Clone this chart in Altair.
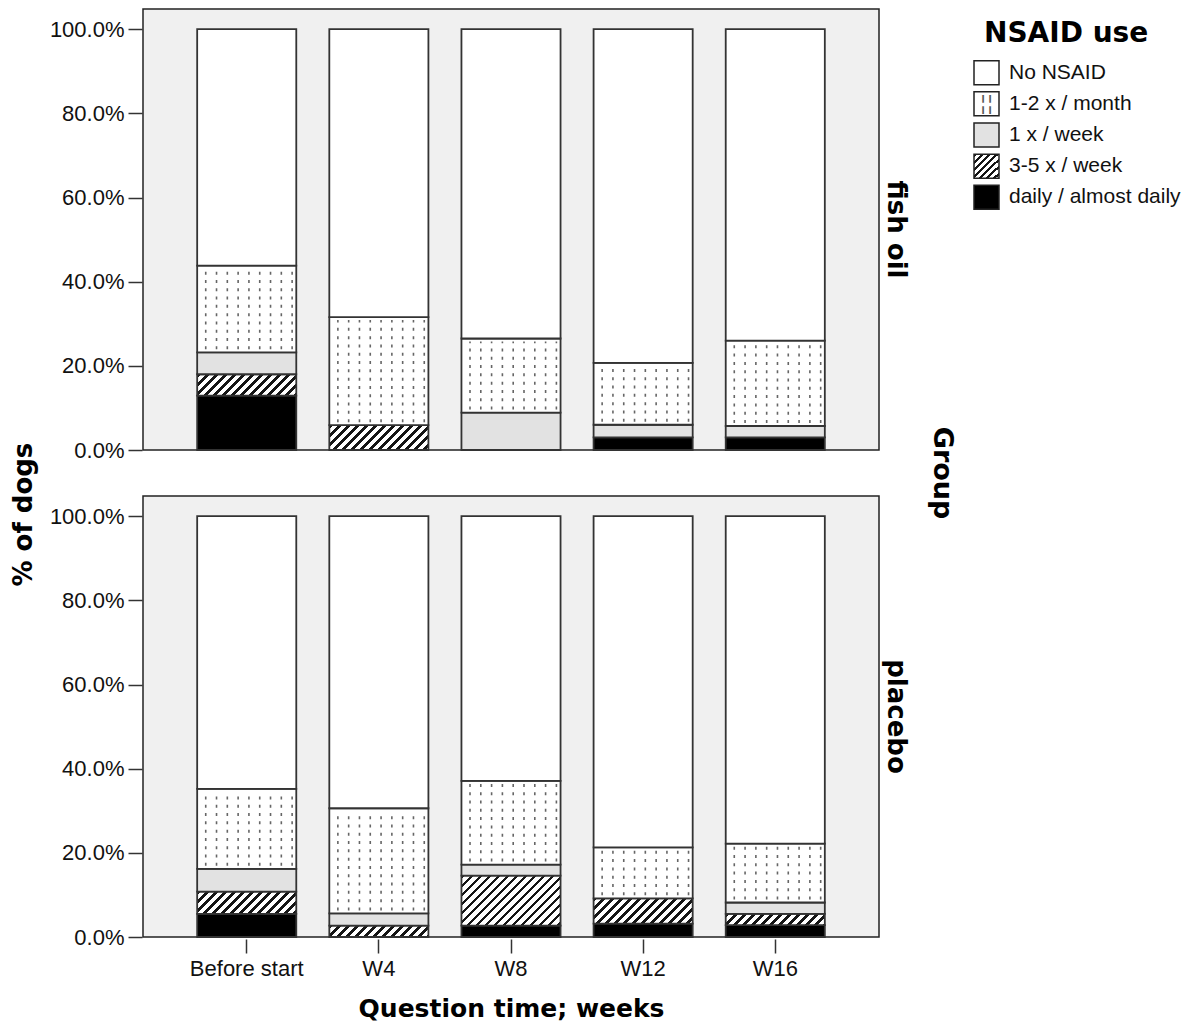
import altair as alt

# ---------------- data (percent of dogs) ----------------
times = ["Before start", "W4", "W8", "W12", "W16"]
groups = ["fish oil", "placebo"]
categories = ["No NSAID", "1-2 x / month", "1 x / week", "3-5 x / week", "daily / almost daily"]

fish_daily = [12.9, 0.0, 0.0, 3.0, 3.0]
fish_35 = [5.1, 5.9, 0.0, 0.0, 0.0]
fish_1w = [5.2, 0.0, 8.9, 3.0, 2.7]
fish_12m = [20.6, 25.7, 17.6, 14.7, 20.3]
fish_no = [56.2, 68.4, 73.5, 79.3, 74.0]

placebo_daily = [5.5, 0.0, 2.7, 3.2, 2.8]
placebo_35 = [5.3, 2.7, 11.9, 6.0, 2.7]
placebo_1w = [5.4, 2.9, 2.6, 0.0, 2.7]
placebo_12m = [19.0, 25.0, 19.9, 12.1, 14.0]
placebo_no = [64.8, 69.4, 62.9, 78.7, 77.8]

y_ticks = [0, 20, 40, 60, 80, 100]

# ---------------- styling / layout ----------------
PANEL_W = 736
PANEL_H = 441
Y_MAX = 104.8
PAD_IN = 0.25
PAD_OUT = 0.41
STEP = PANEL_W / (len(times) - PAD_IN + 2 * PAD_OUT)
BAR_W = STEP * (1 - PAD_IN)
PX_PER_PCT = PANEL_H / Y_MAX

TITLE_FONT = "DejaVu Sans"
LABEL_FONT = "Liberation Sans"


def hatch(w, h, period=9.0, frac=0.42):
    """Diagonal '///' hatch as a linear gradient in bbox units."""
    c = (w + h) / (w * w + h * h)
    n = (w + h) / period
    stops = []
    i = 0
    while i < n:
        a = min(i / n, 1.0)
        b = min((i + frac) / n, 1.0)
        d = min((i + 1) / n, 1.0)
        stops += [
            {"offset": a, "color": "#151515"},
            {"offset": b, "color": "#151515"},
            {"offset": b, "color": "#ffffff"},
            {"offset": d, "color": "#ffffff"},
        ]
        i += 1
    return {"gradient": "linear", "x1": 0, "y1": 0, "x2": c * w, "y2": c * h, "stops": stops}


plain_fill = {
    "No NSAID": "#ffffff",
    "1-2 x / month": "#ffffff",
    "1 x / week": "#e2e2e2",
    "daily / almost daily": "#000000",
}

series = {
    "fish oil": [fish_daily, fish_35, fish_1w, fish_12m, fish_no],
    "placebo": [placebo_daily, placebo_35, placebo_1w, placebo_12m, placebo_no],
}
stack_order = ["daily / almost daily", "3-5 x / week", "1 x / week", "1-2 x / month", "No NSAID"]

rows = []
for g in groups:
    for ti, t in enumerate(times):
        cum = 0.0
        for ci, cat in enumerate(stack_order):
            v = series[g][ci][ti]
            if v <= 0:
                continue
            if cat == "3-5 x / week":
                fill = hatch(BAR_W, v * PX_PER_PCT)
            else:
                fill = plain_fill[cat]
            rows.append({"group": g, "time": t, "cat": cat, "value": v,
                         "start": cum, "end": cum + v, "fill": fill})
            cum += v

base = alt.Chart(alt.Data(values=rows))

x_enc = alt.X(
    "time:N", sort=times,
    scale=alt.Scale(paddingInner=PAD_IN, paddingOuter=PAD_OUT),
    axis=alt.Axis(title="Question time; weeks", labelAngle=0, labelPadding=5,
                  titlePadding=17),
)
y_enc = alt.Y(
    "start:Q",
    scale=alt.Scale(domain=[0, Y_MAX], nice=False, zero=True),
    axis=alt.Axis(title=None, values=y_ticks,
                  labelExpr="format(datum.value, '.1f') + '%'", labelPadding=4),
)

bars = base.mark_bar(stroke="#333333", strokeWidth=1.8).encode(
    x=x_enc,
    y=y_enc,
    y2="end:Q",
    fill=alt.Fill("fill:N", scale=None),
)

rule_layers = []
for i in range(9):
    off = -41 + 10.8 * i
    rule_layers.append(
        base.transform_filter(alt.datum.cat == "1-2 x / month")
        .mark_rule(xOffset=off, yOffset=-3, y2Offset=3, strokeDash=[3, 5.3],
                   color="#666666", strokeWidth=1.6)
        .encode(x=alt.X("time:N", sort=times), y="start:Q", y2="end:Q")
    )

panel = alt.layer(bars, *rule_layers).properties(width=PANEL_W, height=PANEL_H)

faceted = panel.facet(
    row=alt.Row(
        "group:N", sort=groups,
        header=alt.Header(
            title="Group", labelAngle=90, labelOrient="right", titleOrient="right",
            titleAngle=90, labelFont=TITLE_FONT, labelFontSize=26, labelFontWeight="bold",
            labelColor="#000", labelPadding=3, titleFont=TITLE_FONT, titleFontSize=27,
            titleFontWeight="bold", titleColor="#000", titlePadding=9,
        ),
    ),
    spacing=43,
).properties(
    title=alt.TitleParams("% of dogs", orient="left", anchor="middle", font=TITLE_FONT,
                          fontSize=26, fontWeight="bold", color="#000", offset=12),
)

# ---------------- manual legend ----------------
leg_rows = []
for cat in categories:
    if cat == "3-5 x / week":
        f = hatch(24, 24, period=7.0)
    else:
        f = plain_fill[cat]
    leg_rows.append({"cat": cat, "fill": f})

leg_base = alt.Chart(alt.Data(values=leg_rows))
leg_y = alt.Y("cat:N", sort=categories, axis=None,
              scale=alt.Scale(paddingInner=0.23, paddingOuter=0.12, range=[48, 204]))
leg_sw = leg_base.mark_bar(stroke="#222", strokeWidth=1.5).encode(
    y=leg_y, x=alt.value(0), x2=alt.value(25), fill=alt.Fill("fill:N", scale=None)
)
leg_dots = leg_base.transform_filter(alt.datum.cat == "1-2 x / month").mark_text(
    text="¦", fontSize=20, color="#555", font=LABEL_FONT
).encode(y=leg_y, x=alt.value(9))
leg_dots2 = leg_base.transform_filter(alt.datum.cat == "1-2 x / month").mark_text(
    text="¦", fontSize=20, color="#555", font=LABEL_FONT
).encode(y=leg_y, x=alt.value(16))
leg_txt = leg_base.mark_text(
    align="left", baseline="middle", font=LABEL_FONT, fontSize=21, color="#111"
).encode(y=leg_y, x=alt.value(35), text="cat:N")
leg_title = leg_base.transform_filter(alt.datum.cat == "No NSAID").mark_text(
    text="NSAID use", align="left", baseline="middle", font=TITLE_FONT, fontSize=28,
    fontWeight="bold", color="#000"
).encode(x=alt.value(10), y=alt.value(25))

legend = alt.layer(leg_sw, leg_dots, leg_dots2, leg_txt, leg_title).properties(
    width=212, height=210,
    view=alt.ViewBackground(fill="#ffffff", stroke="#ffffff", strokeWidth=0),
)

chart = alt.hconcat(faceted, legend, spacing=17).properties(
    padding={"left": 3, "top": 0, "right": 0, "bottom": 0},
    background="#ffffff",
).configure_view(
    fill="#f0f0f0", stroke="#222222", strokeWidth=1.5
).configure_axis(
    labelFont=LABEL_FONT, labelFontSize=22, labelColor="#111",
    titleFont=TITLE_FONT, titleFontSize=25, titleFontWeight="bold", titleColor="#000",
    tickSize=14, tickWidth=1.5, tickColor="#333", domain=False, grid=False,
).configure_concat(spacing=17)

chart.save("out.html", embed_options={"renderer": "svg", "actions": False})
